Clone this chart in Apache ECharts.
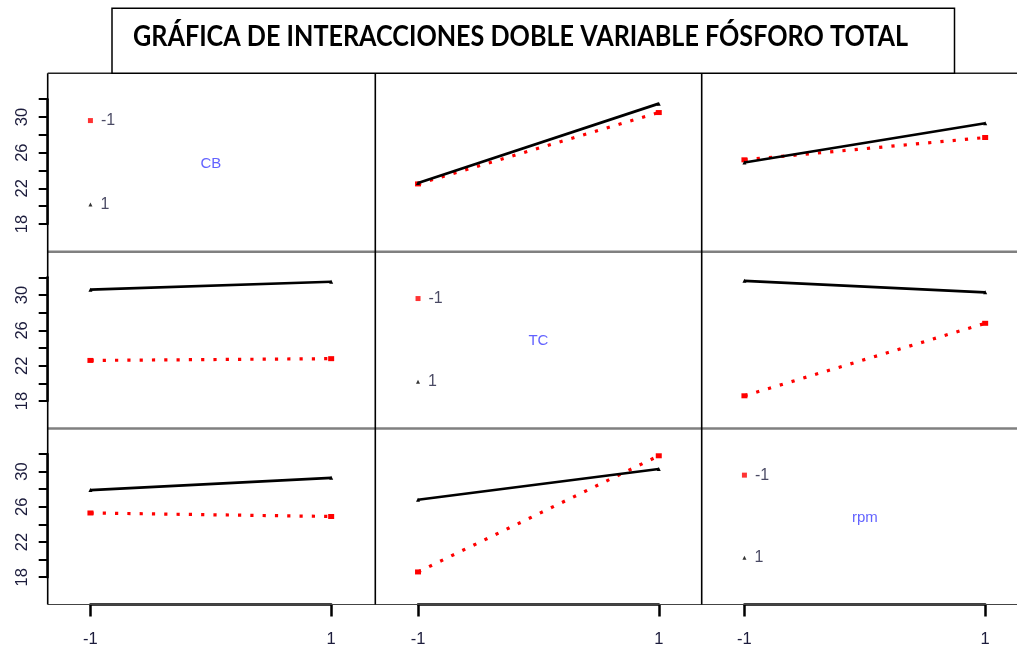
<!DOCTYPE html>
<html>
<head>
<meta charset="utf-8">
<script src="https://cdn.jsdelivr.net/npm/echarts@6/dist/echarts.min.js"></script>
<style>
  html, body { margin: 0; padding: 0; background: #fff; }
  #chart { width: 1017px; height: 646px; }
</style>
</head>
<body>
<div id="chart"></div>
<script>
// ---- content ----
const titleText = 'GRÁFICA DE INTERACCIONES DOBLE VARIABLE FÓSFORO TOTAL';
const factors = ['CB', 'TC', 'rpm'];
const levels = [-1, 1];
const levelLabels = ['-1', '1'];
const yTicks = [18, 20, 22, 24, 26, 28, 30, 32];
const yTickLabels = [18, 22, 26, 30];
const xTicks = [-1, 1];

// Mean total phosphorus, trace factor (row) against x factor (column).
// "Low" = trace factor at -1, "High" = trace factor at 1; values at x = -1 and x = 1.
const cbVsTcLow = [22.5, 30.5];
const cbVsTcHigh = [22.6, 31.5];
const cbVsRpmLow = [25.2, 27.7];
const cbVsRpmHigh = [24.9, 29.3];
const tcVsCbLow = [22.6, 22.8];
const tcVsCbHigh = [30.6, 31.5];
const tcVsRpmLow = [18.6, 26.8];
const tcVsRpmHigh = [31.6, 30.3];
const rpmVsCbLow = [25.3, 24.9];
const rpmVsCbHigh = [27.9, 29.3];
const rpmVsTcLow = [18.6, 31.8];
const rpmVsTcHigh = [26.8, 30.3];

// Key positions inside the diagonal panels
const keyY = [29.6, 20.2];
const nameY = 24.8;

const panelData = {
  '0,1': [cbVsTcLow, cbVsTcHigh],
  '0,2': [cbVsRpmLow, cbVsRpmHigh],
  '1,0': [tcVsCbLow, tcVsCbHigh],
  '1,2': [tcVsRpmLow, tcVsRpmHigh],
  '2,0': [rpmVsCbLow, rpmVsCbHigh],
  '2,1': [rpmVsTcLow, rpmVsTcHigh]
};

// ---- layout ----
const colLeft = [47.7, 375.3, 701.7];
const colWidth = 327.4;
const rowTop = [73.3, 251.7, 428.5];
const rowBottom = [251.7, 428.5, 604.5];
const xMin = -1.355, xMax = 1.365;
const yMin = 14.9, yMax = 34.9;

const RED = '#ff0000';
const BLACK = '#000000';
const BLUE = '#3a3aff';
const TEXT = '#1c1c3c';
const FONT = '"Liberation Sans", Arial, sans-serif';

const xPix = (c, v) => colLeft[c] + (v - xMin) / (xMax - xMin) * colWidth;
const yPix = (r, v) => rowTop[r] + (yMax - v) / (yMax - yMin) * (rowBottom[r] - rowTop[r]);

const grids = [], xAxes = [], yAxes = [], series = [];

function addGrid(g) {
  grids.push(Object.assign({ outerBoundsMode: 'none', containLabel: false, show: false }, g));
  return grids.length - 1;
}

// panel grids holding the data
for (let r = 0; r < 3; r++) {
  for (let c = 0; c < 3; c++) {
    const k = addGrid({
      left: colLeft[c], top: rowTop[r],
      width: colWidth, height: rowBottom[r] - rowTop[r]
    });
    xAxes.push({ gridIndex: k, type: 'value', min: xMin, max: xMax, show: false });
    yAxes.push({ gridIndex: k, type: 'value', min: yMin, max: yMax, show: false });

    if (r === c) {
      series.push({
        type: 'scatter', xAxisIndex: k, yAxisIndex: k, silent: true, z: 5,
        data: [
          { value: [levels[0], keyY[0]], symbol: 'rect', symbolSize: 5,
            itemStyle: { color: RED }, label: { formatter: levelLabels[0] } },
          { value: [levels[0], keyY[1]], symbol: 'triangle', symbolSize: 4,
            itemStyle: { color: BLACK }, label: { formatter: levelLabels[1] } }
        ],
        label: { show: true, position: 'right', distance: 8, fontSize: 16,
                 fontFamily: FONT, color: TEXT }
      });
      series.push({
        type: 'scatter', xAxisIndex: k, yAxisIndex: k, silent: true, z: 5,
        symbolSize: 1, itemStyle: { color: 'rgba(0,0,0,0)' },
        data: [[0, nameY]],
        label: { show: true, position: 'inside', formatter: factors[r],
                 fontSize: 15, fontFamily: FONT, color: BLUE }
      });
    } else {
      const [low, high] = panelData[r + ',' + c];
      series.push({
        type: 'line', xAxisIndex: k, yAxisIndex: k, silent: true, z: 3,
        data: xTicks.map((x, i) => [x, low[i]]),
        symbol: 'rect', symbolSize: [6, 5], showSymbol: true,
        itemStyle: { color: RED },
        lineStyle: { color: RED, width: 3.2, type: [3.2, 9.1], cap: 'butt' }
      });
      series.push({
        type: 'line', xAxisIndex: k, yAxisIndex: k, silent: true, z: 4,
        data: xTicks.map((x, i) => [x, high[i]]),
        symbol: 'triangle', symbolSize: 4, showSymbol: true,
        itemStyle: { color: BLACK },
        lineStyle: { color: BLACK, width: 2.7 }
      });
    }
  }
}

// y axes on the left column, spanning only the ticked range
for (let r = 0; r < 3; r++) {
  const top = yPix(r, yTicks[yTicks.length - 1]);
  const bottom = yPix(r, yTicks[0]);
  const k = addGrid({ left: colLeft[0], top: top, width: colWidth, height: bottom - top });
  xAxes.push({ gridIndex: k, type: 'value', min: 0, max: 1, show: false });
  yAxes.push({
    gridIndex: k, type: 'value', position: 'left',
    min: yTicks[0], max: yTicks[yTicks.length - 1], interval: 2,
    axisLine: { show: true, lineStyle: { color: BLACK, width: 2.5 } },
    axisTick: { show: true, length: 9, lineStyle: { color: BLACK, width: 2 } },
    splitLine: { show: false },
    axisLabel: {
      show: true, rotate: 90, margin: 17, fontSize: 16.5, fontFamily: FONT, color: TEXT,
      formatter: v => (yTickLabels.indexOf(v) >= 0 ? String(v) : '')
    }
  });
}

// x axes under the bottom row, spanning -1 .. 1
for (let c = 0; c < 3; c++) {
  const left = xPix(c, xTicks[0]);
  const right = xPix(c, xTicks[1]);
  const k = addGrid({ left: left, top: rowTop[2], width: right - left, height: rowBottom[2] - rowTop[2] });
  xAxes.push({
    gridIndex: k, type: 'value', position: 'bottom', min: xTicks[0], max: xTicks[1],
    axisLine: { show: true, lineStyle: { color: BLACK, width: 2.5 } },
    axisTick: { show: true, length: 12, customValues: xTicks, lineStyle: { color: BLACK, width: 2.5 } },
    splitLine: { show: false },
    axisLabel: { show: true, customValues: xTicks, margin: 26, fontSize: 16.5, fontFamily: FONT, color: TEXT }
  });
  yAxes.push({ gridIndex: k, type: 'value', min: 0, max: 1, show: false });
}

// panel frame
const frame = [];
const hLine = (y, x1, x2, color, width) => frame.push({
  type: 'line', shape: { x1: x1, y1: y, x2: x2, y2: y }, z: 1,
  style: { stroke: color, lineWidth: width }
});
const vLine = (x, y1, y2, color, width) => frame.push({
  type: 'line', shape: { x1: x, y1: y1, x2: x, y2: y2 }, z: 1,
  style: { stroke: color, lineWidth: width }
});
hLine(rowTop[1], colLeft[0], 1017, '#808080', 2.5);
hLine(rowTop[2], colLeft[0], 1017, '#808080', 2.5);
hLine(rowBottom[2], colLeft[0], 1017, '#444444', 1.2);
colLeft.forEach(x => vLine(x, rowTop[0], rowBottom[2], BLACK, 1.6));
hLine(rowTop[0], colLeft[0], 1017, '#222222', 1.6);

// title box, text sized to its measured span
const titleFont = 'Lato, "Open Sans", sans-serif';
const ctx = document.createElement('canvas').getContext('2d');
ctx.font = 'bold 24px ' + titleFont;
const titleSize = 24 * 775 / ctx.measureText(titleText).width;

const titleBox = [
  { type: 'rect', shape: { x: 112, y: 8.3, width: 842.5, height: rowTop[0] - 8.3 }, z: 2,
    style: { fill: '#ffffff', stroke: BLACK, lineWidth: 1.5 } },
  { type: 'text', x: 133, y: 37, z: 3, scaleY: 1.15,
    style: { text: titleText, fill: BLACK, font: 'bold ' + titleSize.toFixed(2) + 'px ' + titleFont,
             verticalAlign: 'middle', align: 'left' } }
];

const chart = echarts.init(document.getElementById('chart'), null, { renderer: 'canvas' });
chart.setOption({
  animation: false,
  backgroundColor: '#ffffff',
  grid: grids,
  xAxis: xAxes,
  yAxis: yAxes,
  series: series,
  graphic: frame.concat(titleBox)
});
</script>
</body>
</html>
